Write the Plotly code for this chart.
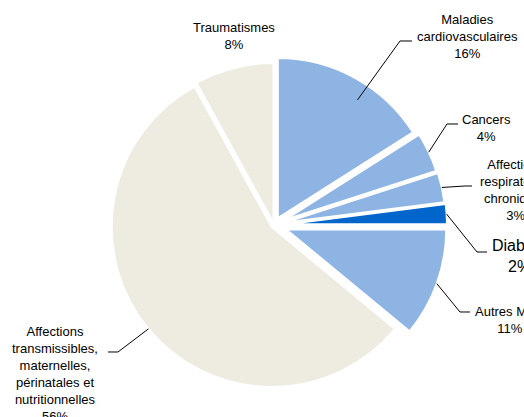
import math
import plotly.graph_objects as go

# ---- data ----
categories = ["Maladies cardiovasculaires", "Cancers", "Affections respiratoires chroniques",
              "Diabète", "Autres MNT",
              "Affections transmissibles, maternelles, périnatales et nutritionnelles",
              "Traumatismes"]
values = [16, 4, 3, 2, 11, 56, 8]
label_lines = [["Maladies", "cardiovasculaires"], ["Cancers"],
               ["Affections", "respiratoires", "chroniques"], ["Diabète"], ["Autres MNT"],
               ["Affections", "transmissibles,", "maternelles,", "périnatales et", "nutritionnelles"],
               ["Traumatismes"]]

# ---- style / layout ----
W, H = 524, 417
colors = ["#8EB4E3", "#8EB4E3", "#8EB4E3", "#0066CC", "#8EB4E3", "#EEECE1", "#EEECE1"]
R = 160.0                      # pie radius (px)
CX, CY = 274.0, 225.0          # pie centre (px, from top-left)
pull_px = [8, 11, 12, 13, 13, 3, 2]
pulls = [p / R for p in pull_px]
maxpull = max(pulls)
half = R * (1 + maxpull)
dom_x = [(CX - half) / W, (CX + half) / W]
dom_y = [(H - (CY + half)) / H, (H - (CY - half)) / H]

label_pos = [(467, 36), (486, 128), (515.5, 190), (519, 256), (509, 320), (55, 374), (233.5, 36)]
label_size = [13, 13, 13, 16, 13, 13, 13]
# leader line elbow and end points (px); None = no leader
leader = [((400, 41), (412, 41)), ((447, 124), (458, 124)), ((465, 186), (472, 186)),
          ((477, 252), (487, 252)), ((460, 312), (470, 312)), ((118, 352), (108, 352)), None]
anchor_frac = [0.89, 1.0, 1.0, 1.0, 1.0, 1.0, 1.0]
anchor_dang = [5.2, 0, 0, 0, 0, 0, 0]

fig = go.Figure(go.Pie(
    labels=categories, values=values, sort=False, direction="clockwise", rotation=0,
    textinfo="none", hoverinfo="none", pull=pulls,
    marker=dict(colors=colors, line=dict(color="white", width=2)),
    domain=dict(x=dom_x, y=dom_y), showlegend=False,
))

def px2paper(x, y):
    return x / W, (H - y) / H

total = sum(values)
cum = 0.0
shapes, annotations = [], []
for i, v in enumerate(values):
    a0 = cum / total * 360
    cum += v
    a1 = cum / total * 360
    mid = math.radians((a0 + a1) / 2)
    pcx = CX + pull_px[i] * math.sin(mid)
    pcy = CY - pull_px[i] * math.cos(mid)
    pct = round(v / total * 100)
    text = "<br>".join(label_lines[i] + [f"{pct}%"])
    lx, ly = label_pos[i]
    ax, ay = px2paper(lx, ly)
    annotations.append(dict(text=text, x=ax, y=ay, xref="paper", yref="paper",
                            xanchor="center", yanchor="middle", showarrow=False, align="center",
                            font=dict(family="Liberation Sans, Arial, sans-serif",
                                      size=label_size[i], color="#000000")))
    if leader[i] is not None:
        ang = mid + math.radians(anchor_dang[i])
        sx = pcx + R * anchor_frac[i] * math.sin(ang)
        sy = pcy - R * anchor_frac[i] * math.cos(ang)
        pts = [(sx, sy), leader[i][0], leader[i][1]]
        path = ""
        for k, (x, y) in enumerate(pts):
            px_, py_ = px2paper(x, y)
            path += ("M" if k == 0 else " L") + f"{px_:.5f},{py_:.5f}"
        shapes.append(dict(type="path", path=path, xref="paper", yref="paper",
                           line=dict(color="#000000", width=1)))

fig.update_layout(width=W, height=H, margin=dict(l=0, r=0, t=0, b=0),
                  paper_bgcolor="white", plot_bgcolor="white",
                  shapes=shapes, annotations=annotations)
fig.write_html("out.html", config={"displayModeBar": False, "staticPlot": True},
               post_script="document.body.style.margin='0';document.body.style.overflow='hidden';")
